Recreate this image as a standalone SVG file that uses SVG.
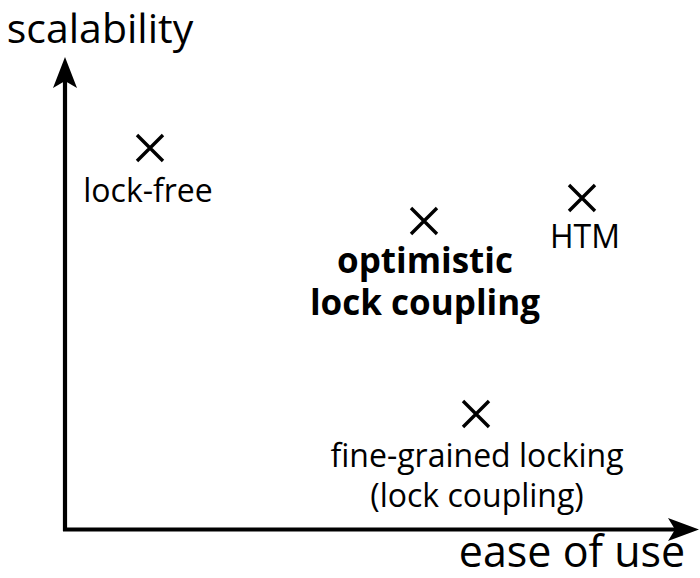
<svg xmlns="http://www.w3.org/2000/svg" width="700" height="578" viewBox="0 0 700 578">
<style>
text{font-family:"Open Sans","DejaVu Sans",sans-serif;fill:#000;text-anchor:middle}
.lb{font-size:32px}
.bd{font-size:35px;font-weight:bold}
.x{stroke:#000;stroke-width:3.4;fill:none}
.axis{stroke:#000;stroke-width:4.2;fill:none}
</style>
<defs>
<path id="cross" d="M-13,-13L13,13M-13,13L13,-13"/>
</defs>
<g id="axes">
<path class="axis" d="M65,531V80"/>
<path class="axis" d="M63,529.5H680"/>
<path d="M65,57L77,88L65,81L53,88Z" fill="#000"/>
<path d="M699,529.5L668,541L675,529.5L668,518Z" fill="#000"/>
<text x="100" y="43" style="font-size:41px">scalability</text>
<text x="572" y="567" style="font-size:43px">ease of use</text>
</g>
<g id="lock-free">
<use href="#cross" class="x" x="150" y="148"/>
<text class="lb" x="148" y="202">lock-free</text>
</g>
<g id="olc">
<use href="#cross" class="x" x="424" y="221"/>
<text class="bd" x="425" y="273">optimistic</text>
<text class="bd" x="425" y="315">lock coupling</text>
</g>
<g id="htm">
<use href="#cross" class="x" x="582" y="198"/>
<text class="lb" x="585" y="248">HTM</text>
</g>
<g id="fine">
<use href="#cross" class="x" x="476" y="414"/>
<text class="lb" x="477" y="467">fine-grained locking</text>
<text class="lb" x="477" y="507">(lock coupling)</text>
</g>
</svg>
